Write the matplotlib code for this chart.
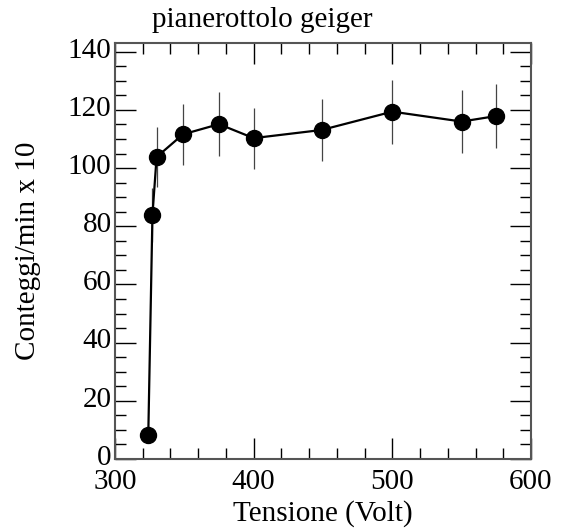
import numpy as np
import matplotlib
matplotlib.use("Agg")
from matplotlib import pyplot as plt
from matplotlib import transforms
from matplotlib.ticker import MultipleLocator

# valori
tensione = [324, 327, 330, 349, 375, 400, 449, 500, 550, 575]
conteggi = [8.3, 83.8, 103.8, 111.6, 115.1, 110.3, 113.1, 119.4, 116.0, 117.9]
errori = [2.9, 9.2, 10.2, 10.6, 10.9, 10.5, 10.6, 11.0, 10.8, 10.9]

plt.rcParams['font.family'] = ['Liberation Serif', 'DejaVu Serif']
plt.rcParams['font.size'] = 21

fig = plt.figure(figsize=(5.63, 5.31), dpi=100)
ax = fig.add_axes([115 / 563, 1 - 459 / 531, 416 / 563, 416 / 531])

ax.errorbar(tensione, conteggi, yerr=errori, fmt='none', ecolor='#444444',
            elinewidth=0.9, capsize=0, zorder=2)
ax.plot(tensione, conteggi, color='black', lw=1.6, marker='o',
        markersize=11.5, zorder=3)

ax.set_xlim(300, 600)
ax.set_ylim(0, 143)
ax.xaxis.set_major_locator(MultipleLocator(100))
ax.xaxis.set_minor_locator(MultipleLocator(20))
ax.yaxis.set_major_locator(MultipleLocator(20))
ax.yaxis.set_minor_locator(MultipleLocator(5))
ax.tick_params(which='both', direction='in', top=True, right=True,
               labelsize=21)
ax.tick_params(axis='x', pad=7.5)
ax.tick_params(axis='y', pad=2.5)
ax.tick_params(which='major', length=15, width=1)
ax.tick_params(which='minor', length=7.7, width=1)
for s in ax.spines.values():
    s.set_color('#555555')
    s.set_linewidth(1.5)

# etichette y leggermente sopra le tacche, come nell'originale
su = transforms.ScaledTranslation(0, 3 / 72, fig.dpi_scale_trans)
for lab in ax.get_yticklabels():
    lab.set_transform(lab.get_transform() + su)

ax.set_xlabel('Tensione (Volt)', fontsize=21, labelpad=3)
ax.set_ylabel('Conteggi/min x 10', fontsize=21, labelpad=19)
fig.text(152 / 563, 1 - 20 / 531, 'pianerottolo geiger', fontsize=21,
         va='center', ha='left')

fig.savefig('out.png', dpi=100)
